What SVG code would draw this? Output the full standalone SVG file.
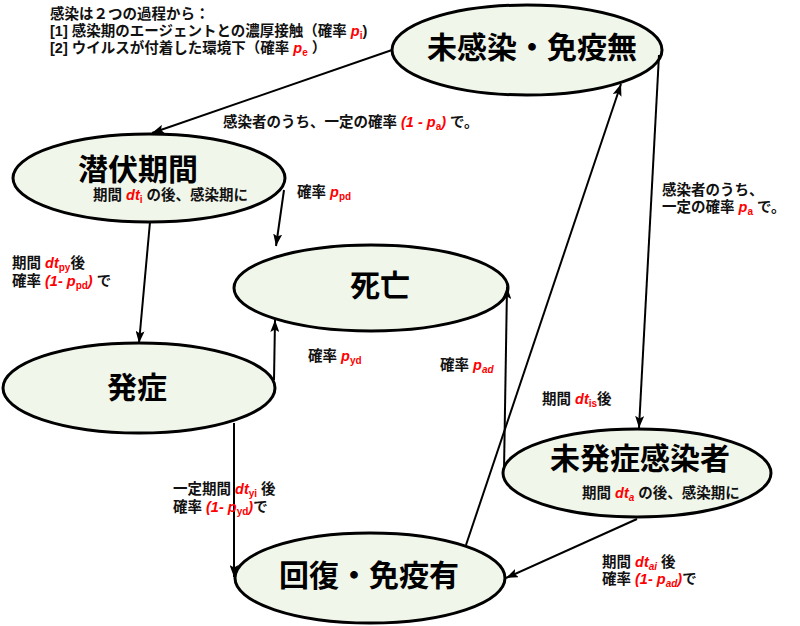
<svg xmlns="http://www.w3.org/2000/svg" width="800" height="626" viewBox="0 0 800 626">
<defs>
<style>
.n{fill:#F1F6EB;stroke:#000;stroke-width:3}
.c{fill:none;stroke:#000;stroke-width:2;marker-end:url(#ah)}
.t{font-family:"Liberation Sans","Noto Sans CJK JP",sans-serif;font-weight:700;font-size:30px;text-anchor:middle;fill:#000}
.l{font-family:"Liberation Sans","Noto Sans CJK JP",sans-serif;font-weight:700;font-size:14.5px;fill:#111}
.r{fill:#FF0000;font-style:italic}
.s{font-size:10px;font-style:normal}
.si{font-size:10px;font-style:italic}
</style>
<marker id="ah" markerUnits="userSpaceOnUse" markerWidth="13" markerHeight="9" refX="12" refY="4.5" orient="auto">
<path d="M0,0 L12,4.5 L0,9 L2.5,4.5 z" fill="#000"/>
</marker>
</defs>
<rect width="800" height="626" fill="#fff"/>

<g id="note">
<text class="l" x="50" y="19">感染は２つの過程から：</text>
<text class="l" x="50" y="36">[1] 感染期のエージェントとの濃厚接触（確率 <tspan class="r">p</tspan><tspan class="r s" dy="3">i</tspan><tspan dy="-3">)</tspan></text>
<text class="l" x="50" y="53">[2] ウイルスが付着した環境下（確率 <tspan class="r">p</tspan><tspan class="r s" dy="3">e</tspan><tspan dy="-3"> ）</tspan></text>
</g>

<g id="node-mikansen">
<ellipse class="n" cx="527" cy="50" rx="135" ry="45"/>
<text class="t" x="532" y="58">未感染・免疫無</text>
</g>
<g id="node-senpuku">
<ellipse class="n" cx="149" cy="178" rx="136" ry="44"/>
<text class="t" x="138" y="180">潜伏期間</text>
<text class="l" x="93" y="200">期間 <tspan class="r">dt</tspan><tspan class="r s" dy="3">i</tspan><tspan dy="-3"> の後、感染期に</tspan></text>
</g>
<g id="node-shibou">
<ellipse class="n" cx="371" cy="288" rx="137" ry="43"/>
<text class="t" x="380" y="296">死亡</text>
</g>
<g id="node-hassho">
<ellipse class="n" cx="139" cy="388" rx="136" ry="45"/>
<text class="t" x="137" y="398">発症</text>
</g>
<g id="node-mihassho">
<ellipse class="n" cx="637" cy="473" rx="134" ry="44"/>
<text class="t" x="640" y="469">未発症感染者</text>
<text class="l" x="582" y="498">期間 <tspan class="r">dt</tspan><tspan class="r si" dy="3">a</tspan><tspan dy="-3"> の後、感染期に</tspan></text>
</g>
<g id="node-kaifuku">
<ellipse class="n" cx="370" cy="578" rx="135" ry="45"/>
<text class="t" x="369" y="586">回復・免疫有</text>
</g>

<g id="connectors">
<path class="c" d="M392,50 L152,133"/>
<path class="c" d="M284,190 L276,246"/>
<path class="c" d="M150,222 L139,343"/>
<path class="c" d="M274,380 L275,320"/>
<path class="c" d="M234,423 L234,577"/>
<path class="c" d="M504,470 L507,287"/>
<path class="c" d="M466,545 L621,84"/>
<path class="c" d="M659,55 L639,428"/>
<path class="c" d="M637,519 L506,578"/>
</g>

<g id="labels">
<text class="l" x="223" y="127">感染者のうち、一定の確率 <tspan class="r">(1 - p</tspan><tspan class="r s" dy="3">a</tspan><tspan class="r" dy="-3">)</tspan> で。</text>
<text class="l" x="297" y="197">確率 <tspan class="r">p</tspan><tspan class="r s" dy="3">pd</tspan></text>
<text class="l" x="12" y="268">期間 <tspan class="r">dt</tspan><tspan class="r s" dy="3">py</tspan><tspan dy="-3">後</tspan></text>
<text class="l" x="12" y="286">確率 <tspan class="r">(1- p</tspan><tspan class="r s" dy="3">pd</tspan><tspan class="r" dy="-3">)</tspan> で</text>
<text class="l" x="662" y="195">感染者のうち、</text>
<text class="l" x="662" y="212">一定の確率 <tspan class="r">p</tspan><tspan class="r s" dy="3">a</tspan><tspan dy="-3"> で。</tspan></text>
<text class="l" x="308" y="361">確率 <tspan class="r">p</tspan><tspan class="r s" dy="3">yd</tspan></text>
<text class="l" x="440" y="370">確率 <tspan class="r">p</tspan><tspan class="r si" dy="3">ad</tspan></text>
<text class="l" x="542" y="404">期間 <tspan class="r">dt</tspan><tspan class="r s" dy="3">is</tspan><tspan dy="-3">後</tspan></text>
<text class="l" x="173" y="494">一定期間 <tspan class="r">dt</tspan><tspan class="r s" dy="3">yi</tspan><tspan dy="-3">  後</tspan></text>
<text class="l" x="173" y="512">確率 <tspan class="r">(1- p</tspan><tspan class="r s" dy="3">yd</tspan><tspan class="r" dy="-3">)</tspan>で</text>
<text class="l" x="602" y="567">期間 <tspan class="r">dt</tspan><tspan class="r si" dy="3">ai</tspan><tspan dy="-3">  後</tspan></text>
<text class="l" x="602" y="584">確率 <tspan class="r">(1- p</tspan><tspan class="r si" dy="3">ad</tspan><tspan class="r" dy="-3">)</tspan>で</text>
</g>
</svg>
